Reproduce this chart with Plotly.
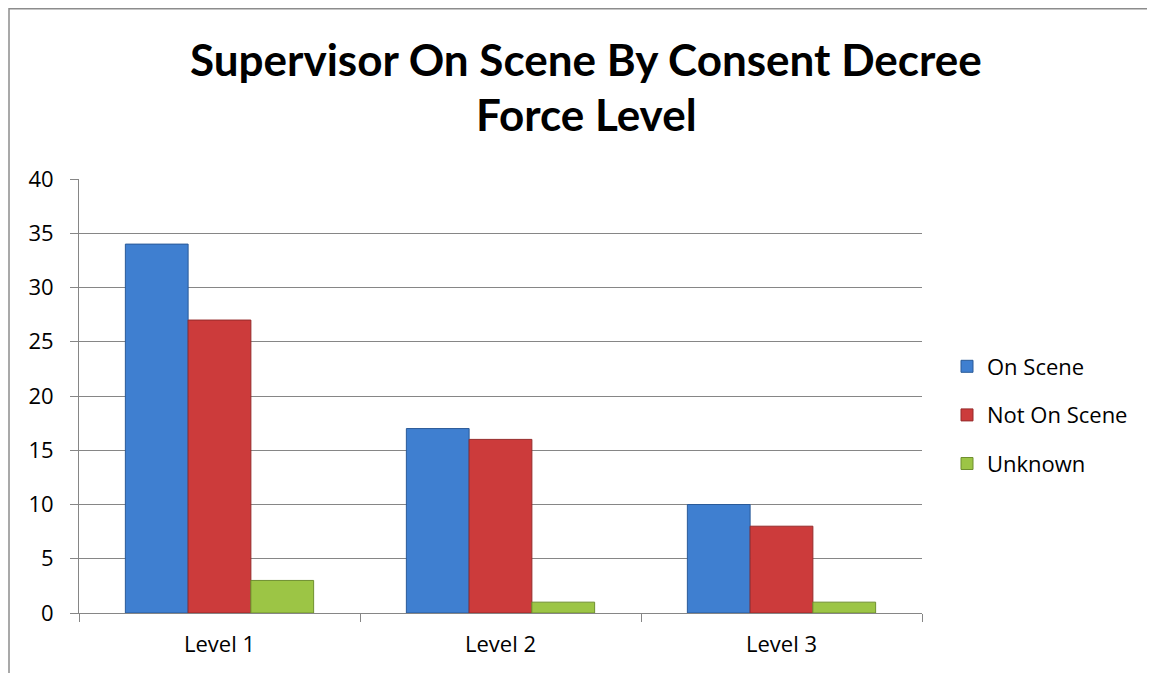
import plotly.graph_objects as go

categories = ["Level 1", "Level 2", "Level 3"]
on_scene = [34, 17, 10]
not_on_scene = [27, 16, 8]
unknown = [3, 1, 1]

y_ticks = [0, 5, 10, 15, 20, 25, 30, 35, 40]

W, H = 1155, 673
L, R, T, B = 71, 914, 171, 605   # plot area in figure pixels (page has 8px body margin)
FONT = "Open Sans, Calibri, sans-serif"
TFONT = "Lato, Calibri, sans-serif"


def px(x):
    return (x - L) / (R - L)


def py(y):
    return 1 - (y - T) / (B - T)


fig = go.Figure()
series = [
    ("On Scene", on_scene, "#3f7fd0", "#2a5a98"),
    ("Not On Scene", not_on_scene, "#cc3b3b", "#952b2b"),
    ("Unknown", unknown, "#9cc545", "#6f8f2f"),
]
for i, (name, vals, col, edge) in enumerate(series):
    fig.add_trace(go.Bar(
        x=categories, y=vals, name=name,
        marker=dict(color=col, line=dict(color=edge, width=1)),
        legendgroup=str(i),
    ))

fig.update_layout(
    width=W, height=H,
    paper_bgcolor="white", plot_bgcolor="white",
    barmode="group", bargap=0.33, bargroupgap=0,
    margin=dict(l=L, r=W - R, t=T, b=H - B, autoexpand=False),
    font=dict(family=FONT, size=22, color="#000000"),
    legend=dict(
        x=px(939), xanchor="left", y=py(407), yanchor="middle",
        font=dict(size=22, family=FONT),
        tracegroupgap=17,
        bgcolor="rgba(0,0,0,0)",
    ),
    showlegend=True,
)

# two-line title
fig.add_annotation(text="<b>Supervisor On Scene By Consent Decree</b>",
                   xref="paper", yref="paper", x=px(578), y=py(51),
                   xanchor="center", yanchor="middle", showarrow=False,
                   font=dict(size=44, family=TFONT, color="#000000"))
fig.add_annotation(text="<b>Force Level</b>",
                   xref="paper", yref="paper", x=px(578), y=py(106),
                   xanchor="center", yanchor="middle", showarrow=False,
                   font=dict(size=44, family=TFONT, color="#000000"))

fig.update_xaxes(
    automargin=False,
    showline=True, linecolor="#868686", linewidth=1,
    ticks="outside", tickson="boundaries", ticklen=8, tickcolor="#868686",
    showgrid=False,
    tickfont=dict(size=22, family=FONT),
    ticklabelstandoff=12,
)
fig.update_yaxes(
    automargin=False,
    range=[0, 40], tickvals=y_ticks,
    showline=True, linecolor="#868686", linewidth=1,
    ticks="outside", ticklen=8, tickcolor="#868686",
    showgrid=True, gridcolor="#868686", gridwidth=1,
    zeroline=False,
    tickfont=dict(size=22, family=FONT),
    ticklabelstandoff=12,
)

# chart-area border (top and left edges)
fig.add_shape(type="line", xref="paper", yref="paper",
              x0=px(1), x1=px(W), y0=py(0.75), y1=py(0.75),
              line=dict(color="#8c8c8c", width=1.5))
fig.add_shape(type="line", xref="paper", yref="paper",
              x0=px(1), x1=px(1), y0=py(0), y1=py(H),
              line=dict(color="#8c8c8c", width=1.5))

fig.write_html("out.html")
